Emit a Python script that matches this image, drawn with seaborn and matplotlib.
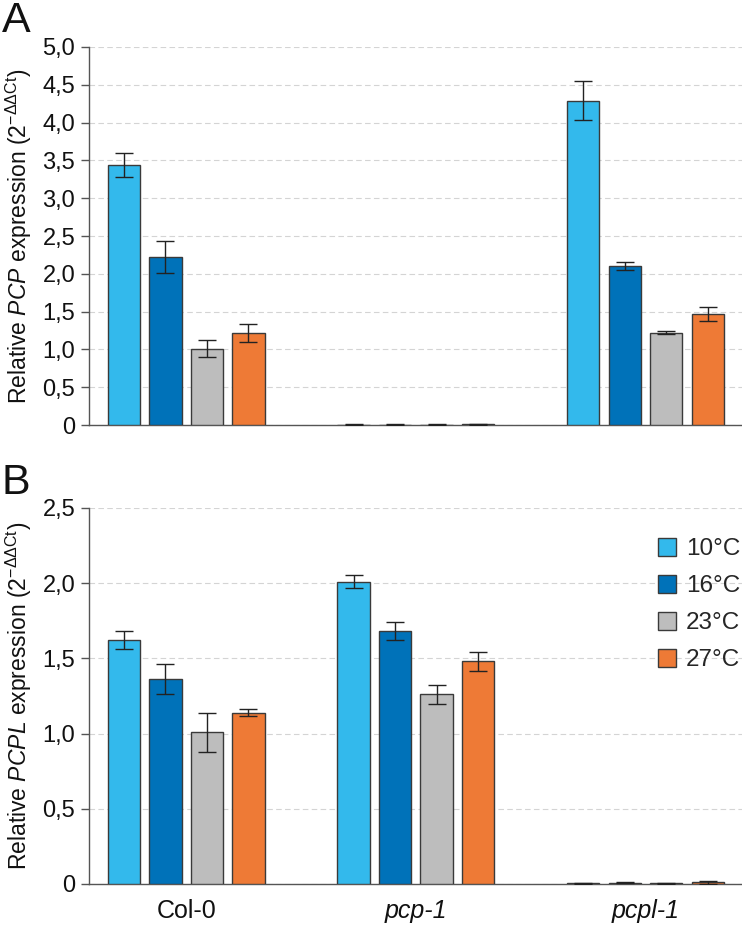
import numpy as np
import pandas as pd
import matplotlib
matplotlib.use("Agg")
import matplotlib.pyplot as plt
from matplotlib.container import BarContainer
import seaborn as sns

genotypes = ["Col-0", "pcp-1", "pcpl-1"]
temps = ["10°C", "16°C", "23°C", "27°C"]
colors = ["#33b9ec", "#0072b9", "#bdbdbd", "#ee7a36"]

# Panel A: Relative PCP expression, rows = genotype, cols = temperature
pcp_mean = [[3.44, 2.22, 1.01, 1.22],
            [0.005, 0.005, 0.005, 0.008],
            [4.29, 2.10, 1.22, 1.47]]
pcp_err = [[0.16, 0.21, 0.11, 0.12],
           [0.003, 0.003, 0.003, 0.004],
           [0.26, 0.05, 0.02, 0.09]]
# Panel B: Relative PCPL expression
pcpl_mean = [[1.62, 1.36, 1.01, 1.14],
             [2.01, 1.68, 1.26, 1.48],
             [0.004, 0.008, 0.006, 0.010]]
pcpl_err = [[0.06, 0.10, 0.13, 0.025],
            [0.045, 0.06, 0.06, 0.065],
            [0.002, 0.003, 0.003, 0.010]]

ticks_a = [0, 0.5, 1.0, 1.5, 2.0, 2.5, 3.0, 3.5, 4.0, 4.5, 5.0]
ticklabels_a = ["0", "0,5", "1,0", "1,5", "2,0", "2,5", "3,0", "3,5", "4,0", "4,5", "5,0"]
ticks_b = [0, 0.5, 1.0, 1.5, 2.0, 2.5]
ticklabels_b = ["0", "0,5", "1,0", "1,5", "2,0", "2,5"]

sns.set_theme(style="white")
plt.rcParams["font.family"] = ["Liberation Sans", "DejaVu Sans"]
plt.rcParams["mathtext.fontset"] = "custom"
plt.rcParams["mathtext.rm"] = "Liberation Sans"
plt.rcParams["mathtext.it"] = "Liberation Sans:italic"
plt.rcParams["mathtext.sf"] = "Liberation Sans"

fig = plt.figure(figsize=(7.42, 9.27), dpi=100)
axA = fig.add_axes([0.12, 0.5415, 0.88, 0.4078])
axB = fig.add_axes([0.12, 0.0464, 0.88, 0.4056])

def long_df(mean, err):
    rows = []
    for gi, g in enumerate(genotypes):
        for ti, t in enumerate(temps):
            rows.append({"genotype": g, "temp": t, "value": mean[gi][ti], "err": err[gi][ti]})
    return pd.DataFrame(rows)

def draw(ax, mean, err, ticks, ticklabels, ylabel_gene, legend):
    df = long_df(mean, err)
    sns.barplot(data=df, x="genotype", y="value", hue="temp", order=genotypes,
                hue_order=temps, palette=colors, saturation=1, width=0.723, gap=0.22,
                edgecolor="#3a3a3a", linewidth=1.0, errorbar=None, ax=ax,
                legend=legend, zorder=3)
    bars = [c for c in ax.containers if isinstance(c, BarContainer)]
    for ti, cont in enumerate(bars):
        xs = [b.get_x() + b.get_width() / 2 for b in cont]
        ys = [mean[gi][ti] for gi in range(len(genotypes))]
        es = [err[gi][ti] for gi in range(len(genotypes))]
        ax.errorbar(xs, ys, yerr=es, fmt="none", ecolor="#222222", elinewidth=1.0,
                    capsize=6.8, capthick=1.0, zorder=4)
    ax.set_xlim(-0.423, 2.42)
    ax.set_ylim(0, ticks[-1])
    ax.set_yticks(ticks)
    ax.set_yticklabels(ticklabels, fontsize=17, color="#111111")
    ax.set_xlabel("")
    ax.set_ylabel(r"Relative $\mathit{" + ylabel_gene + r"}$ expression (2$^{\mathrm{-ΔΔCt}}$)",
                  fontsize=16.5, color="#111111", labelpad=6)
    for s in ["top", "right"]:
        ax.spines[s].set_visible(False)
    for s in ["left", "bottom"]:
        ax.spines[s].set_color("#555555")
        ax.spines[s].set_linewidth(1.0)
    ax.yaxis.grid(True, linestyle=(0, (5, 3)), color="#d4d4d4", linewidth=0.8, zorder=0)
    ax.set_axisbelow(True)
    ax.tick_params(axis="y", which="both", left=True, length=6, width=1.0,
                   color="#555555", pad=4)
    ax.tick_params(axis="x", bottom=False)

draw(axA, pcp_mean, pcp_err, ticks_a, ticklabels_a, "PCP", False)
draw(axB, pcpl_mean, pcpl_err, ticks_b, ticklabels_b, "PCPL", True)

axA.set_xticklabels([])
axB.set_xticks(range(len(genotypes)))
axB.set_xticklabels(genotypes, fontsize=18, color="#111111")
for lbl in axB.get_xticklabels()[1:]:
    lbl.set_fontstyle("italic")
axB.tick_params(axis="x", pad=5)

leg = axB.legend(loc="upper right", bbox_to_anchor=(1.012, 0.946), frameon=False,
                 fontsize=17.5, handlelength=0.75, handleheight=0.75,
                 labelspacing=0.6, handletextpad=0.4, borderaxespad=0.0)
for h in leg.legend_handles:
    h.set_edgecolor("#3a3a3a")
    h.set_linewidth(1.0)

fig.text(0.002, 0.999, "A", fontsize=31, va="top", ha="left", color="#111111")
fig.text(0.002, 0.501, "B", fontsize=31, va="top", ha="left", color="#111111")

fig.savefig("out.png", dpi=100)
